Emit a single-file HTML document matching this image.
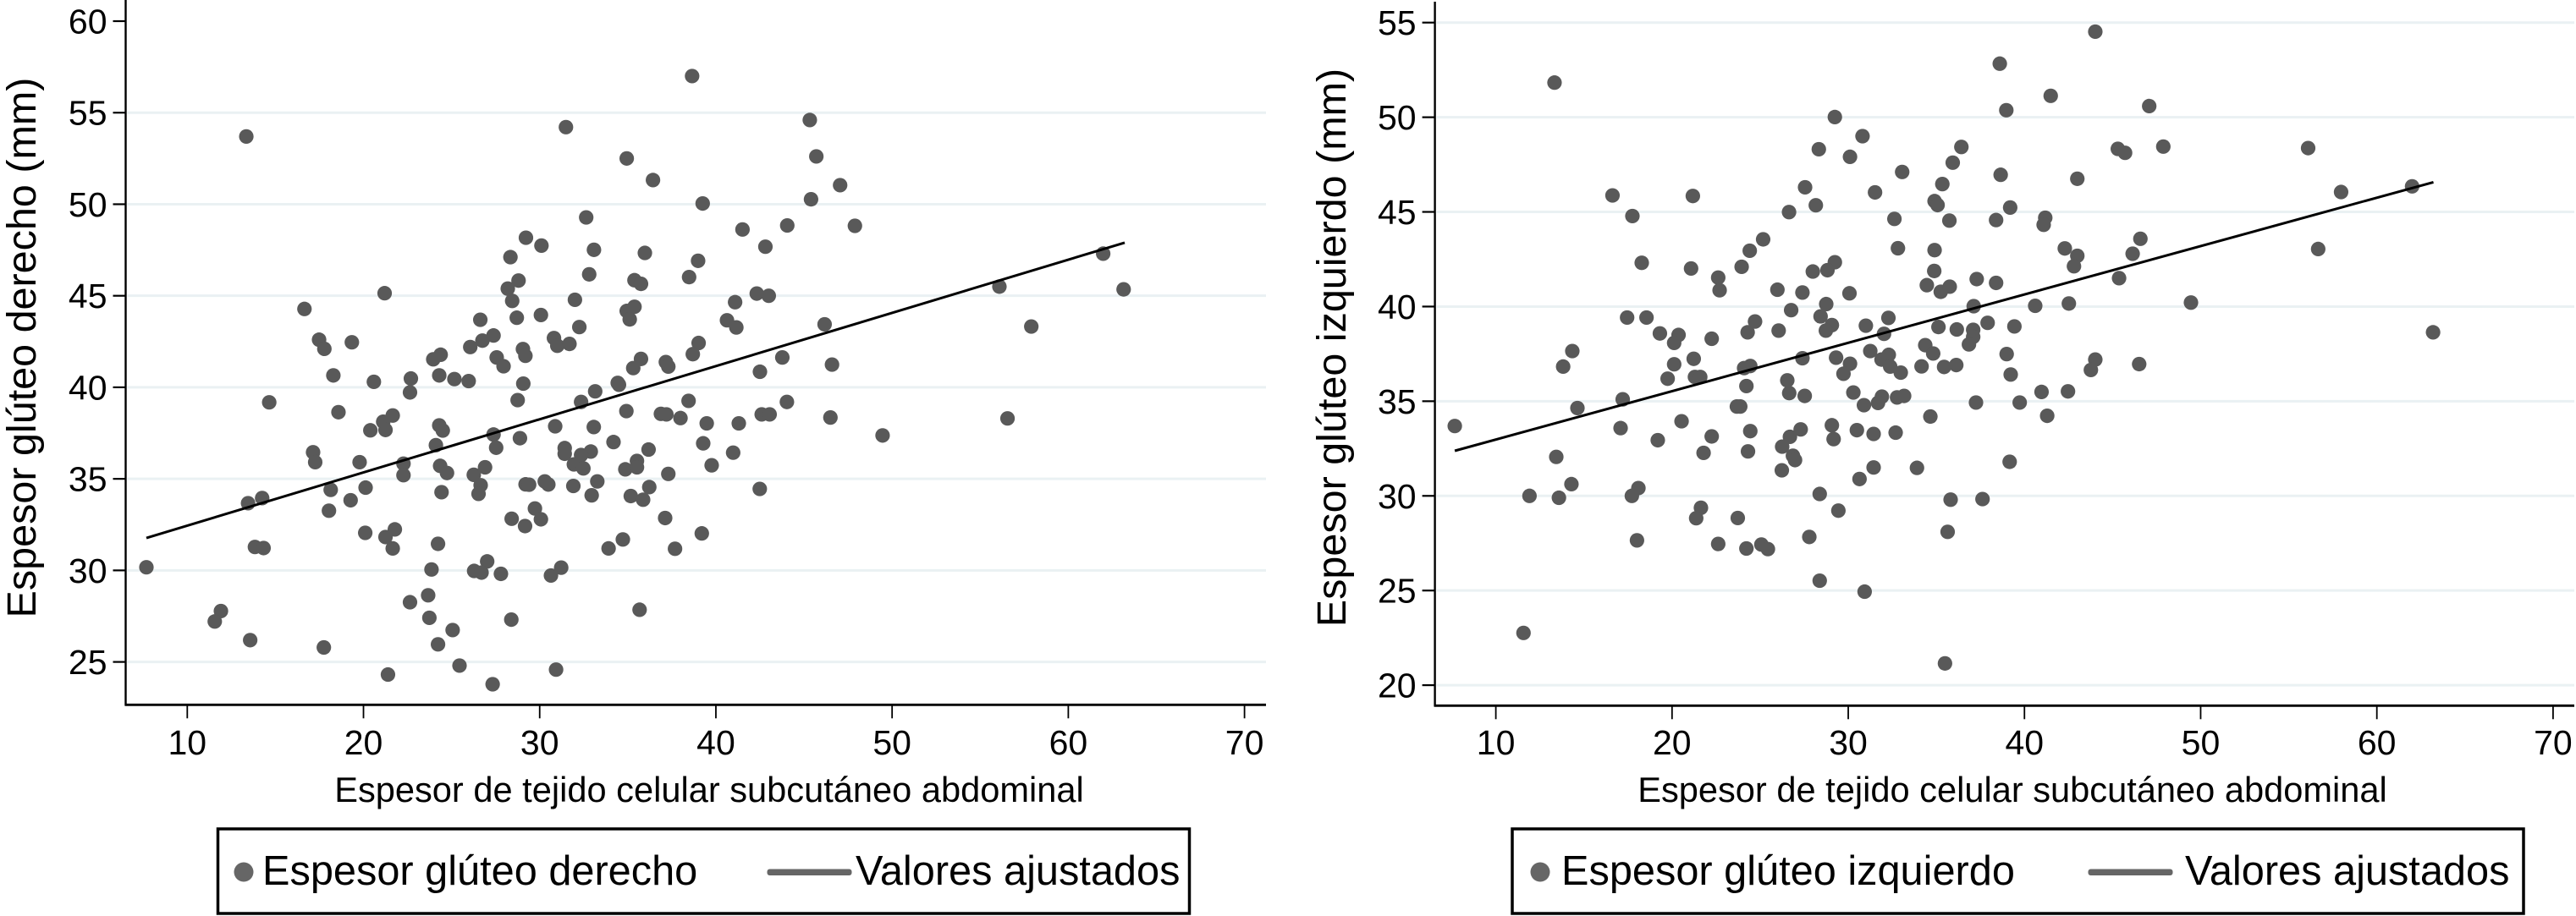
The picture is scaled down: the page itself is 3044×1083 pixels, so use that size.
<!DOCTYPE html>
<html lang="es">
<head>
<meta charset="utf-8">
<title>Espesor glúteo frente a tejido celular subcutáneo abdominal</title>
<style>
html,body{margin:0;padding:0;background:#fff;}
svg{display:block;font-family:"Liberation Sans",Arial,sans-serif;}
</style>
</head>
<body>
<svg id="figure" xmlns="http://www.w3.org/2000/svg" width="3044" height="1083" viewBox="0 0 3044 1083">
  <rect width="3044" height="1083" fill="#ffffff"/>
  <g id="left-chart"></g>
  <g id="right-chart"></g>

  <text transform="translate(42,411) rotate(-90)" text-anchor="middle" font-size="48.5" fill="#000">Espesor glúteo derecho (mm)</text>
  <text x="838" y="948" text-anchor="middle" font-size="41.6" fill="#000">Espesor de tejido celular subcutáneo abdominal</text>
  <g>
    <rect x="257.5" y="980" width="1148" height="100" fill="#fff" stroke="#000" stroke-width="3.5"/>
    <circle cx="288" cy="1031" r="11.5" fill="#666666"/>
    <text x="310" y="1046" font-size="48.7" fill="#000">Espesor glúteo derecho</text>
    <rect x="906.5" y="1027.5" width="100" height="7.5" rx="3" fill="#666666"/>
    <text x="1011" y="1046" font-size="48.7" fill="#000">Valores ajustados</text>
  </g>

  <text transform="translate(1590,411) rotate(-90)" text-anchor="middle" font-size="48.5" fill="#000">Espesor glúteo izquierdo (mm)</text>
  <text x="2378" y="948" text-anchor="middle" font-size="41.6" fill="#000">Espesor de tejido celular subcutáneo abdominal</text>
  <g>
    <rect x="1787" y="980" width="1195" height="100" fill="#fff" stroke="#000" stroke-width="3.5"/>
    <circle cx="1820" cy="1031" r="11.5" fill="#666666"/>
    <text x="1845" y="1046" font-size="48.7" fill="#000">Espesor glúteo izquierdo</text>
    <rect x="2467.5" y="1027.5" width="100" height="7.5" rx="3" fill="#666666"/>
    <text x="2582" y="1046" font-size="48.7" fill="#000">Valores ajustados</text>
  </g>
</svg>
<script>
var xTickValues = [10, 20, 30, 40, 50, 60, 70];
var leftYTicks = [25, 30, 35, 40, 45, 50, 55, 60];
var leftGridValues = [25, 30, 35, 40, 45, 50, 55];
var rightYTicks = [20, 25, 30, 35, 40, 45, 50, 55];
var rightGridValues = [20, 25, 30, 35, 40, 45, 50, 55];

var leftFitX = [7.68, 63.2];
var leftFitY = [31.77, 47.9];
var rightFitX = [7.67, 63.21];
var rightFitY = [32.38, 46.57];

var leftThickness = [
13.35,16.65,17.48,17.78,19.34,21.2,18.29,20.59,22.69,24.3,25.16,25.97,23.96,24.38,26.06,26.75,27.38,26.63,27.56,27.95,
28.7,28.44,28.19,28.8,28.34,29.22,30.1,30.07,29.05,29.19,30.81,31.0,31.69,32.25,32.0,31.49,32.64,33.08,32.81,34.94,
36.43,35.97,35.38,35.75,35.38,34.94,35.11,35.75,35.31,37.16,37.3,29.07,34.43,34.5,
22.64,14.65,18.58,21.66,21.12,21.25,20.39,24.3,24.5,27.38,27.53,24.11,28.88,30.88,32.35,33.15,34.92,33.07,34.19,36.88,
37.19,36.18,31.42,31.42,32.9,32.35,31.94,32.48,35.52,34.86,37.3,17.14,17.26,19.78,22.27,22.27,24.35,24.74,
26.9,26.26,26.65,26.53,18.14,20.12,19.27,13.45,14.25,18.04,24.43,29.2,29.4,30.29,30.49,31.91,33.27,32.95,35.17,35.87,
36.22,29.73,30.07,28.41,29.17,37.12,20.1,21.78,21.25,21.66,24.23,13.84,14.33,34.72,33.91,37.68,7.68,23.86,27.02,26.28,
26.7,27.8,31.22,30.64,23.67,22.64,35.67,11.91,11.56,23.74,28.39,25.06,13.57,17.75,24.23,25.45,30.93,21.39,27.33,
38.65,45.33,45.7,47.05,39.25,45.4,41.51,44.05,47.89,42.81,38.99,38.48,41.09,42.32,43.0,40.63,41.16,46.17,56.09,63.14,
61.98,57.9,39.02,38.69,43.77,46.59,42.5,
38.45,37.99,39.48,41.3,42.6,43.05,44.03,46.5,49.46,39.28,40.98,39.76,42.49,39.2,56.55,35.52,28.75
];
var leftGluteRight = [
53.7,44.28,42.6,42.1,42.46,45.14,40.65,40.3,40.48,40.65,40.45,40.34,41.53,41.78,42.2,42.55,42.83,43.69,41.63,41.15,
43.8,44.72,45.39,45.83,47.11,48.17,47.74,43.95,42.09,41.72,42.69,42.27,42.37,43.29,44.78,54.21,49.28,47.51,46.17,52.5,
51.32,47.34,45.85,45.65,44.4,44.17,43.71,41.55,41.05,41.38,41.13,40.2,40.24,40.14,
39.72,39.18,38.64,38.46,38.12,37.67,37.65,37.92,37.64,37.42,36.7,36.84,37.22,37.87,39.2,39.78,38.7,37.83,37.01,38.55,
38.52,36.6,36.68,36.37,36.49,36.3,35.79,35.57,35.98,35.52,35.27,36.45,35.91,35.91,35.83,35.2,35.71,35.32,
35.63,35.22,34.65,34.18,34.4,34.52,33.83,33.67,33.95,33.26,34.27,34.7,34.68,34.86,34.69,34.61,34.86,34.1,34.06,33.86,
34.55,33.38,32.79,32.82,32.42,32.86,32.05,32.24,31.82,31.2,31.45,31.28,31.22,31.69,31.2,31.18,30.17,30.05,30.49,29.97,
29.88,29.81,30.15,29.72,28.64,28.26,27.85,27.78,27.21,27.41,27.31,26.74,26.19,25.79,25.96,24.8,24.58,24.31,23.78,
57.0,54.6,52.61,51.04,50.04,50.27,48.62,48.84,48.82,47.68,46.91,46.02,44.65,45.12,45.0,43.66,43.27,43.44,45.5,45.35,
47.3,43.32,42.42,41.81,41.63,41.24,40.85,
39.26,38.32,38.03,38.03,38.52,38.52,39.2,38.35,37.37,36.94,36.43,35.74,34.45,32.02,38.3,35.63,39.3
];

var rightThickness = [
13.33,16.62,17.75,21.18,18.28,21.08,22.62,22.7,23.95,24.41,25.17,26.64,27.55,28.16,28.33,29.24,30.81,30.1,31.52,33.06,
32.62,32.82,34.9,34.88,34.46,35.25,35.76,36.42,35.93,35.34,34.9,35.07,35.74,37.29,37.12,29.24,28.82,27.99,25.98,27.4,
30.07,28.75,26.76,28.43,29.07,28.73,32.28,31.0,24.71,24.29,26.05,35.12,36.16,37.09,37.09,36.85,32.03,34.37,34.82,17.45,
18.55,19.31,20.37,20.12,22.25,14.34,13.82,20.12,21.23,27.4,29.31,31.25,32.3,31.89,32.38,30.1,29.73,32.98,34.16,35.44,
36.13,24.44,24.09,19.75,21.3,21.6,26.54,
24.22,26.65,27.53,30.29,31.91,31.69,30.89,32.77,33.17,37.25,17.2,14.63,23.68,23.87,34.66,7.67,20.54,17.08,29.07,27.3,
24.44,30.49,31.44,32.69,26.69,22.25,19.19,29.17,26.25,21.79,24.31,26.86,26.98,13.43,26.23,31.44,33.9,30.64,14.29,18.09,
17.72,11.91,13.58,28.38,35.81,37.62,21.64,21.37,29.44,23.73,27.79,35.64,18.01,22.62,24.22,25.07,25.44,28.38,30.93,11.57,35.49,
44.02,38.6,41.49,38.97,47.08,45.3,45.71,47.88,56.1,38.65,43.0,39.19,38.39,41.18,41.09,57.97,62.0,56.67,46.58,46.14,
42.29,43.0,42.81,45.37,38.39,40.61,42.52,49.45,37.91,39.43,63.19,38.99,44.02,43.77,46.51,39.22,
39.73,40.97,42.47,41.29,39.16
];
var rightGluteLeft = [
51.83,45.87,44.78,45.84,42.31,42.01,41.53,40.86,42.1,42.95,43.55,44.99,46.3,45.35,48.31,50.01,49.0,47.91,46.03,47.11,
44.63,43.08,42.98,41.88,41.13,40.78,41.05,48.43,47.6,46.47,45.57,45.36,44.54,41.45,40.02,42.34,41.92,41.85,40.89,40.74,
40.7,40.13,39.81,39.48,39.02,38.73,39.4,38.99,39.21,38.64,38.73,38.92,38.79,38.77,38.4,38.0,38.56,37.96,37.52,39.42,
39.42,38.58,38.5,38.08,38.3,37.65,36.83,36.95,37.24,37.27,37.3,37.65,37.45,37.2,36.83,36.98,36.45,36.51,36.84,36.81,
36.91,36.86,36.75,36.19,36.28,36.28,36.1,
35.8,35.43,35.28,35.46,35.24,34.91,34.79,35.2,35.28,34.93,35.1,34.64,34.72,34.72,34.19,33.69,33.94,33.58,33.73,33.51,
33.42,33.47,33.27,33.34,33.12,33.14,32.94,33.0,32.6,32.27,32.35,32.12,31.89,32.06,31.35,31.5,31.48,30.89,30.62,30.41,
30.0,30.0,29.9,30.1,29.8,29.83,29.37,28.82,29.22,28.83,27.83,28.1,27.65,27.46,27.22,27.43,27.19,25.52,24.94,22.76,21.15,
54.52,52.83,51.13,50.37,50.59,48.33,48.12,48.45,48.37,46.96,46.75,45.23,44.57,44.69,44.32,46.05,46.35,43.04,43.58,42.79,
43.07,42.68,42.13,41.5,41.25,40.04,40.16,40.21,39.14,38.95,38.64,37.49,37.2,36.65,36.96,36.41,
34.93,35.49,35.52,34.23,31.8
];

var SVGNS = 'http://www.w3.org/2000/svg';

function scaleLinear(v0, p0, v1, p1) {
  return function (v) { return p0 + (v - v0) * (p1 - p0) / (v1 - v0); };
}

function make(tag, parent, attrs) {
  var el = document.createElementNS(SVGNS, tag);
  for (var k in attrs) { el.setAttribute(k, attrs[k]); }
  parent.appendChild(el);
  return el;
}

function drawChart(cfg) {
  var root = document.getElementById(cfg.rootId);
  var xs = scaleLinear(10, cfg.x10, 70, cfg.x70);
  var ys = scaleLinear(cfg.yRefLow, cfg.yPxLow, cfg.yRefHigh, cfg.yPxHigh);

  cfg.gridValues.forEach(function (v) {
    var el = make('line', root, { x1: cfg.axisX + 2, x2: cfg.right, y1: ys(v), y2: ys(v), stroke: '#eaf1f3', 'stroke-width': 3 });
    
    
  });

  cfg.yTicks.forEach(function (v) {
    var tick = make('line', root, { x1: cfg.axisX - 15, x2: cfg.axisX, y1: ys(v), y2: ys(v), stroke: '#000', 'stroke-width': 2.2 });
    
    
    var label = make('text', root, { x: cfg.axisX - 22, y: ys(v) + 14.5, 'text-anchor': 'end', 'font-size': 41, fill: '#000' });
    
    
    label.textContent = String(v);
  });

  xTickValues.forEach(function (v) {
    var tick = make('line', root, { x1: xs(v), x2: xs(v), y1: cfg.axisY, y2: cfg.axisY + 16, stroke: '#000', 'stroke-width': 1.8 });
    
    
    var label = make('text', root, { x: xs(v), y: 892, 'text-anchor': 'middle', 'font-size': 41, fill: '#000' });
    
    
    label.textContent = String(v);
  });

  var yAxis = make('line', root, { x1: cfg.axisX, x2: cfg.axisX, y1: cfg.top, y2: cfg.axisY + 1, stroke: '#000', 'stroke-width': 2.4 });
  
  
  var xAxis = make('line', root, { x1: cfg.axisX - 1, x2: cfg.right, y1: cfg.axisY, y2: cfg.axisY, stroke: '#000', 'stroke-width': 2.8 });
  
  

  cfg.seriesX.forEach(function (xv, i) {
    var dot = make('circle', root, { cx: xs(xv), cy: ys(cfg.seriesY[i]), r: 8.6, fill: '#595959' });
    
    
  });

  var fit = make('line', root, { x1: xs(cfg.fitX[0]), y1: ys(cfg.fitY[0]), x2: xs(cfg.fitX[1]), y2: ys(cfg.fitY[1]), stroke: '#000', 'stroke-width': 3 });
  
  
}

drawChart({
  rootId: 'left-chart', x10: 221.3, x70: 1470.6, yRefLow: 25, yPxLow: 782.6, yRefHigh: 60, yPxHigh: 25,
  axisX: 148.5, axisY: 833.3, top: 0, right: 1496,
  gridValues: leftGridValues, yTicks: leftYTicks,
  seriesX: leftThickness, seriesY: leftGluteRight, fitX: leftFitX, fitY: leftFitY
});
drawChart({
  rootId: 'right-chart', x10: 1767.6, x70: 3016.9, yRefLow: 20, yPxLow: 810.1, yRefHigh: 55, yPxHigh: 26.7,
  axisX: 1695.6, axisY: 834.3, top: 2, right: 3042,
  gridValues: rightGridValues, yTicks: rightYTicks,
  seriesX: rightThickness, seriesY: rightGluteLeft, fitX: rightFitX, fitY: rightFitY
});
</script>
</body>
</html>
